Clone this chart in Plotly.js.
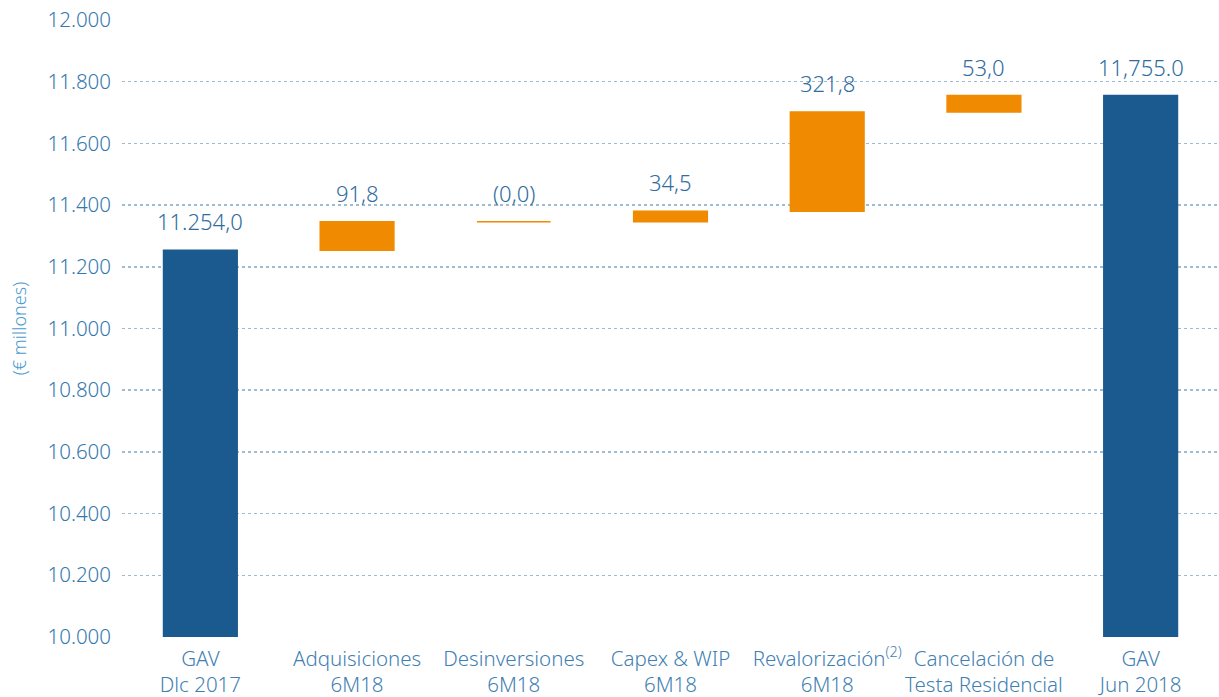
<!DOCTYPE html>
<html><head><meta charset="utf-8">
<script src="https://cdn.plot.ly/plotly-3.0.1.min.js"></script>
<style>html,body{margin:0;padding:0;background:#fff}#chart{width:1219px;height:697px}</style>
</head><body><div id="chart"></div>
<script>
const categories = ["GAV<br>Dlc 2017", "Adquisiciones<br>6M18", "Desinversiones<br>6M18", "Capex & WIP<br>6M18", "Revalorización<sup>(2)</sup><br>6M18", "Cancelación de<br>Testa Residencial", "GAV<br>Jun 2018"];
const kinds = ["total", "delta", "delta", "delta", "delta", "delta", "total"];
const values = [11254.0, 91.8, 0.0, 34.5, 321.8, 53.0, 11755.0];
const valueLabels = ["11.254,0", "91,8", "(0,0)", "34,5", "321,8", "53,0", "11,755.0"];

const AXIS_MIN = 10000;
const BLUE = "#1b5a8e", ORANGE = "#f08a00";
const FONT = "Noto Sans, sans-serif";

let running = 0;
const bases = [], heights = [], colors = [], tops = [];
values.forEach((v, i) => {
  if (kinds[i] === "total") {
    bases.push(AXIS_MIN); heights.push(v - AXIS_MIN); colors.push(BLUE);
    running = v; tops.push(v);
  } else {
    bases.push(running); heights.push(v); colors.push(ORANGE);
    running += v; tops.push(running);
  }
});

const trace = {
  type: "bar",
  x: categories,
  y: heights,
  base: bases,
  width: 0.47,
  marker: {color: colors, line: {color: colors, width: 1.5}},
  hoverinfo: "skip"
};

const annotations = categories.map((c, i) => ({
  x: c, y: tops[i], xref: "x", yref: "y",
  text: valueLabels[i], showarrow: false,
  yanchor: "bottom", yshift: 12,
  font: {family: FONT, size: 22, color: "#2f6d9e", weight: 300}
}));

const layout = {
  width: 1219, height: 697,
  margin: {l: 122, r: 0, t: 20, b: 60},
  paper_bgcolor: "#fff", plot_bgcolor: "#fff",
  separators: ",.",
  showlegend: false,
  xaxis: {
    type: "category",
    showgrid: false, zeroline: false, showline: false, ticks: "",
    ticklabelstandoff: 7,
    tickfont: {family: FONT, size: 20.5, color: "#3f7fb3", weight: 300},
    fixedrange: true
  },
  yaxis: {
    range: [AXIS_MIN, 12000],
    tickvals: [10000, 10200, 10400, 10600, 10800, 11000, 11200, 11400, 11600, 11800, 12000],
    tickformat: ",d",
    showgrid: true, gridcolor: "#9dbcd4", griddash: "dot", gridwidth: 1.5,
    zeroline: false, showline: false, ticks: "",
    ticklabelstandoff: 10,
    tickfont: {family: FONT, size: 20.5, color: "#3478ad", weight: 300},
    title: {text: "(€ millones)", standoff: 16,
      font: {family: FONT, size: 18, color: "#4a9ad0", weight: 300}},
    fixedrange: true
  },
  annotations: annotations
};

Plotly.newPlot("chart", [trace], layout, {displayModeBar: false, staticPlot: true});
</script></body></html>
